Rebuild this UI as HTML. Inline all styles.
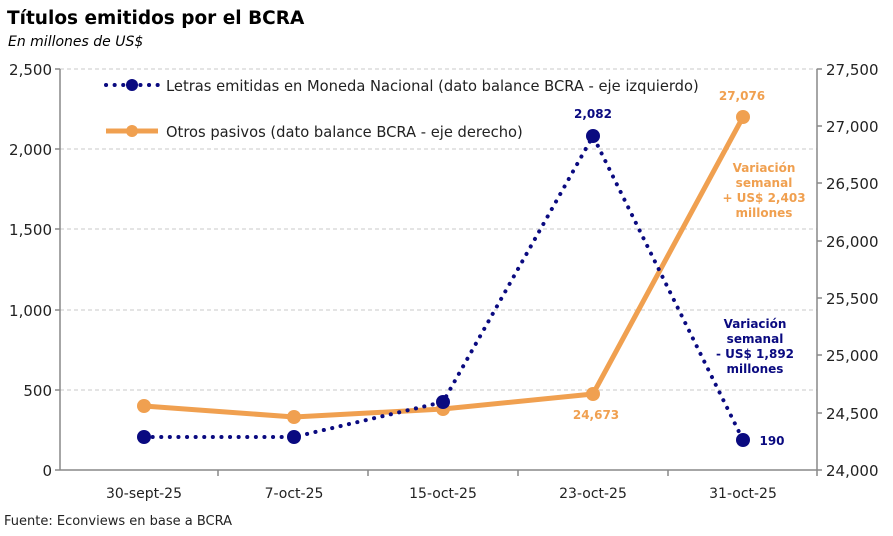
<!DOCTYPE html>
<html><head><meta charset="utf-8"><style>
body{margin:0;background:#fff;width:893px;height:532px;overflow:hidden;font-family:"DejaVu Sans","Liberation Sans",sans-serif;}
</style></head><body>
<svg width="893" height="532" xmlns="http://www.w3.org/2000/svg" font-family="DejaVu Sans, Liberation Sans, sans-serif">
<text x="7" y="24" font-size="18.5" font-weight="bold" fill="#000">Títulos emitidos por el BCRA</text>
<text x="8" y="46" font-size="14" font-style="italic" fill="#000">En millones de US$</text>
<g stroke="#c8c8c8" stroke-dasharray="4,3" stroke-width="1">
<line x1="60" y1="69" x2="817" y2="69"/><line x1="60" y1="149" x2="817" y2="149"/>
<line x1="60" y1="229" x2="817" y2="229"/><line x1="60" y1="310" x2="817" y2="310"/>
<line x1="60" y1="390" x2="817" y2="390"/>
</g>
<g stroke="#888" stroke-width="1.5">
<line x1="60" y1="69" x2="60" y2="470"/><line x1="60" y1="470" x2="817" y2="470"/>
<line x1="817" y1="69" x2="817" y2="470"/>
<line x1="55" y1="69" x2="60" y2="69"/><line x1="55" y1="149" x2="60" y2="149"/><line x1="55" y1="229" x2="60" y2="229"/><line x1="55" y1="310" x2="60" y2="310"/><line x1="55" y1="390" x2="60" y2="390"/><line x1="55" y1="470" x2="60" y2="470"/>
<line x1="817" y1="69" x2="822" y2="69"/><line x1="817" y1="126" x2="822" y2="126"/><line x1="817" y1="183" x2="822" y2="183"/><line x1="817" y1="241" x2="822" y2="241"/><line x1="817" y1="298" x2="822" y2="298"/><line x1="817" y1="355" x2="822" y2="355"/><line x1="817" y1="413" x2="822" y2="413"/><line x1="817" y1="470" x2="822" y2="470"/>
<line x1="218" y1="470" x2="218" y2="476"/><line x1="368" y1="470" x2="368" y2="476"/><line x1="518" y1="470" x2="518" y2="476"/><line x1="668" y1="470" x2="668" y2="476"/><line x1="817" y1="470" x2="817" y2="476"/>
</g>
<g font-size="15" fill="#222" text-anchor="end">
<text x="52" y="75">2,500</text><text x="52" y="155">2,000</text><text x="52" y="235">1,500</text><text x="52" y="316">1,000</text><text x="52" y="396">500</text><text x="52" y="476">0</text>
</g>
<g font-size="15" fill="#222" text-anchor="start">
<text x="826" y="75">27,500</text><text x="826" y="132">27,000</text><text x="826" y="189">26,500</text><text x="826" y="247">26,000</text><text x="826" y="304">25,500</text><text x="826" y="361">25,000</text><text x="826" y="419">24,500</text><text x="826" y="476">24,000</text>
</g>
<g font-size="14" fill="#222" text-anchor="middle">
<text x="144" y="498">30-sept-25</text><text x="294" y="498">7-oct-25</text><text x="443" y="498">15-oct-25</text><text x="593" y="498">23-oct-25</text><text x="743" y="498">31-oct-25</text>
</g>
<polyline points="144,406 294,417 443,409 593,394 743,117" fill="none" stroke="#F0A050" stroke-width="5"/>
<g fill="#F0A050"><circle cx="144" cy="406" r="7"/><circle cx="294" cy="417" r="7"/><circle cx="443" cy="409" r="7"/><circle cx="593" cy="394" r="7"/><circle cx="743" cy="117" r="7"/></g>
<polyline points="144,437 294,437 443,402 593,136 743,440" fill="none" stroke="#0A0A80" stroke-width="4" stroke-dasharray="0.1,8.5" stroke-linecap="round"/>
<g fill="#0A0A80"><circle cx="144" cy="437" r="7"/><circle cx="294" cy="437" r="7"/><circle cx="443" cy="402" r="7"/><circle cx="593" cy="136" r="7"/><circle cx="743" cy="440" r="7"/></g>
<g font-size="12" font-weight="bold" fill="#F0A050" text-anchor="middle">
<text x="742" y="100">27,076</text><text x="596" y="419">24,673</text>
<text x="764" y="172">Variación</text><text x="764" y="187">semanal</text><text x="764" y="202">+ US$ 2,403</text><text x="764" y="217">millones</text>
</g>
<g font-size="12" font-weight="bold" fill="#0A0A80" text-anchor="middle">
<text x="593" y="118">2,082</text><text x="772" y="445">190</text>
<text x="755" y="328">Variación</text><text x="755" y="343">semanal</text><text x="755" y="358">- US$ 1,892</text><text x="755" y="373">millones</text>
</g>
<line x1="106" y1="85" x2="158" y2="85" stroke="#0A0A80" stroke-width="4" stroke-dasharray="0.1,8.5" stroke-linecap="round"/>
<circle cx="132" cy="85" r="6" fill="#0A0A80"/>
<text x="166" y="91" font-size="14.7" fill="#222">Letras emitidas en Moneda Nacional (dato balance BCRA - eje izquierdo)</text>
<line x1="106" y1="131" x2="158" y2="131" stroke="#F0A050" stroke-width="5"/>
<circle cx="132" cy="131" r="6" fill="#F0A050"/>
<text x="166" y="137" font-size="14.7" fill="#222">Otros pasivos (dato balance BCRA - eje derecho)</text>
<text x="4" y="525" font-size="13" fill="#222">Fuente: Econviews en base a BCRA</text>
</svg>
</body></html>
